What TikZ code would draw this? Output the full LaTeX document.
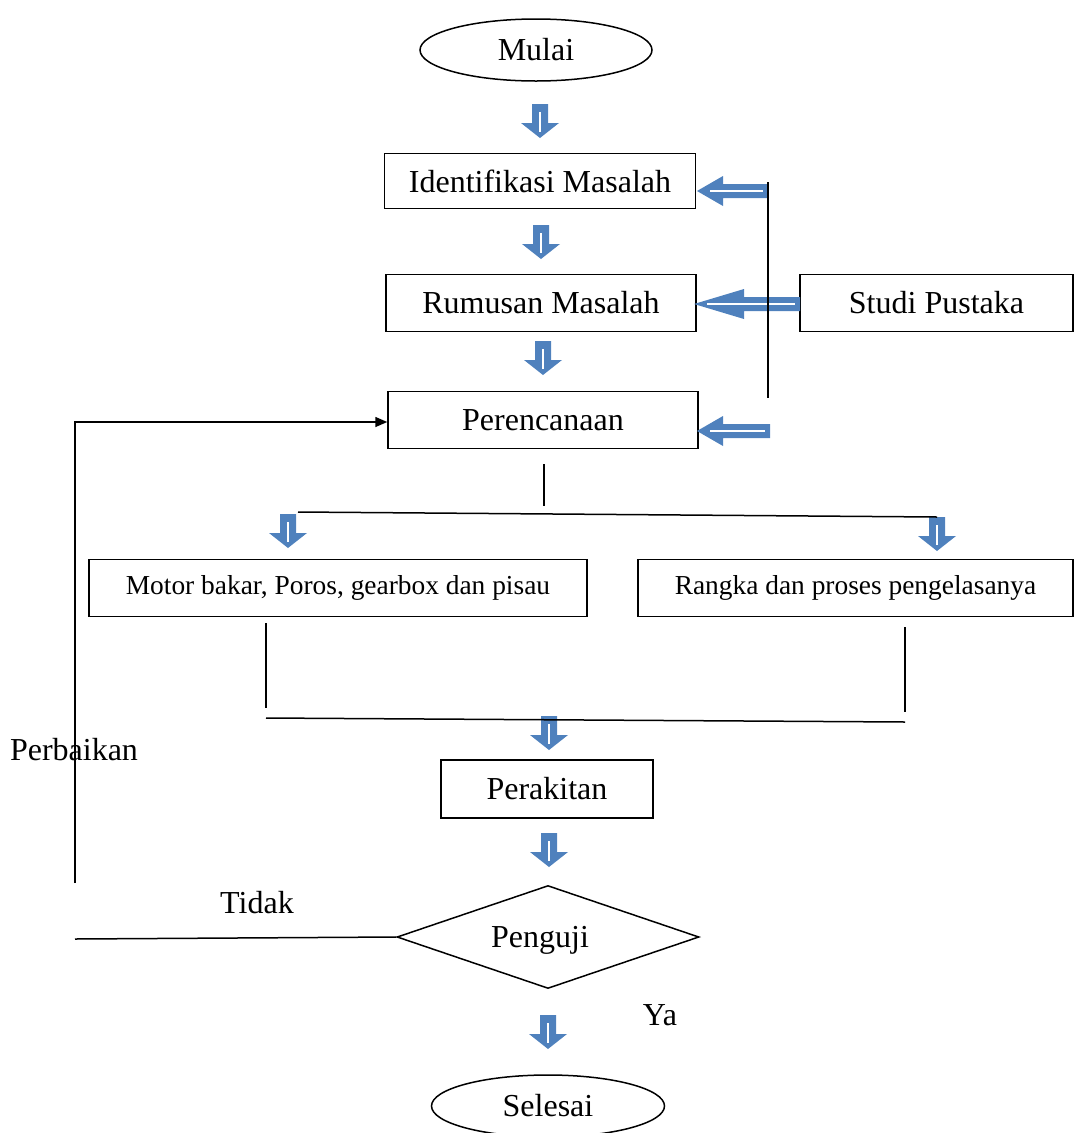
\documentclass[tikz,border=0pt]{standalone}
\usepackage{fontspec}
\setmainfont{Liberation Serif}
\usetikzlibrary{arrows.meta,positioning,shapes.geometric}
\definecolor{birupanah}{RGB}{79,129,189}

\begin{document}
\begin{tikzpicture}[x=1pt, y=-1pt, line width=1.5pt,
  teks/.style={font=\fontsize{32}{38}\selectfont},
  kotak/.style={teks, draw, rectangle, inner sep=0pt},
  kotakkecil/.style={draw, rectangle, inner sep=0pt, font=\fontsize{27.4}{32}\selectfont},
  elips/.style={teks, draw, ellipse, inner sep=0pt, minimum width=232, minimum height=62},
  belah/.style={draw, diamond, inner sep=0pt},
  pics/panahbawah/.style={code={
    \fill[birupanah] (-8,0) -- (8,0) -- (8,19) -- (19,19) -- (0,34) -- (-19,19) -- (-8,19) -- cycle;
    \draw[white, line width=1.2pt] (0,8) -- (0,28);
  }},
  pics/panahkiri/.style 2 args={code={
    \fill[birupanah] (0,0) -- (#2,-15) -- (#2,-7) -- (#1,-7) -- (#1,7) -- (#2,7) -- (#2,15) -- cycle;
    \draw[white, line width=1.2pt] (13,0) -- (#1-5,0);
  }}]
  \useasboundingbox (0,0) rectangle (1074,1133);
  % alur utama
  \node[elips] (mulai) at (536,50) {Mulai};
  \node[kotak, minimum width=311, minimum height=55] (identifikasi) at (540,181) {Identifikasi Masalah};
  \node[kotak, minimum width=310, minimum height=57] (rumusan) at (541,303) {Rumusan Masalah};
  \node[kotak, minimum width=310, minimum height=57] (perencanaan) at (543,420) {Perencanaan};
  \node[kotak, minimum width=273, minimum height=57] (studi) at (936.5,303) {Studi Pustaka};
  \node[kotakkecil, minimum width=498, minimum height=57] (motor) at (338,588) {Motor bakar, Poros, gearbox dan pisau};
  \node[kotakkecil, minimum width=435, minimum height=57] (rangka) at (855.5,588) {Rangka dan proses pengelasanya};
  \node[kotak, minimum width=212, minimum height=58] (perakitan) at (547,789) {Perakitan};
  \node[belah, minimum width=302, minimum height=103] (penguji) at (548,937) {};
  \node[teks] (pengujiteks) at (540,940) {Penguji};
  \node[elips, minimum width=233] (selesai) at (548,1106) {Selesai};
  % label
  \node[teks] (perbaikan) at (74,750) {Perbaikan};
  \node[teks] (tidak) at (257,903) {Tidak};
  \node[teks] (ya) at (660,1015) {Ya};
  % panah blok
  \pic at (540,104) {panahbawah};
  \pic at (541,225) {panahbawah};
  \pic at (543,341) {panahbawah};
  \pic at (288,514) {panahbawah};
  \pic at (937,517) {panahbawah};
  \pic at (549,716) {panahbawah};
  \pic at (549,833) {panahbawah};
  \pic at (548,1015) {panahbawah};
  \pic at (697,191) {panahkiri={71}{26}};
  \pic at (694,304) {panahkiri={106}{50}};
  \pic at (697,431) {panahkiri={73}{26}};
  % garis studi pustaka
  \coordinate (studiatas) at (768,182);
  \coordinate (studibawah) at (768,398);
  \draw (studiatas) -- (studibawah);
  % percabangan
  \coordinate (cabang) at (544,464);
  \coordinate (cabangkiri) at (298,512);
  \coordinate (cabangkanan) at (937,517);
  \draw (cabang) -- (544,506);
  \draw (cabangkiri) -- (cabangkanan);
  \coordinate (gabungkiri) at (266,623);
  \coordinate (gabungkanan) at (905,627);
  \draw (gabungkiri) -- (266,708);
  \draw (gabungkanan) -- (905,712);
  \draw (266,718) -- (905,722);
  % perbaikan
  \coordinate (tidakkiri) at (75,939);
  \coordinate (balik) at (75,883);
  \draw (penguji.west) -- (tidakkiri);
  \draw[-{Triangle[length=12pt,width=10pt]}] (balik) |- ([yshift=-2pt]perencanaan.west);
\end{tikzpicture}
\end{document}
